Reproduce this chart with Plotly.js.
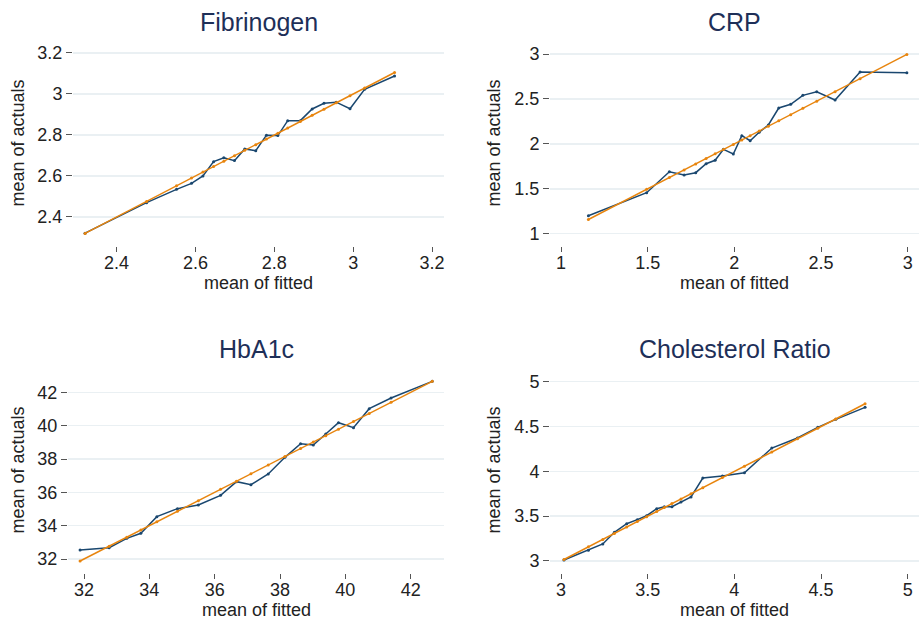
<!DOCTYPE html>
<html>
<head>
<meta charset="utf-8">
<script src="https://cdn.plot.ly/plotly-3.0.1.min.js"></script>
<style>html,body{margin:0;padding:0;background:#fff;}#chart{width:919px;height:625px;}</style>
</head>
<body>
<div id="chart"></div>
<script>
// Panel titles
const panelTitles = ["Fibrinogen", "CRP", "HbA1c", "Cholesterol Ratio"];
const xLabel = "mean of fitted";
const yLabel = "mean of actuals";

// Fibrinogen: bin means of fitted (x) and actual (y)
const fibFitted = [2.320, 2.476, 2.552, 2.590, 2.619, 2.646, 2.672, 2.699, 2.725, 2.753, 2.780, 2.809, 2.834, 2.866, 2.896, 2.926, 2.957, 2.992, 3.029, 3.105];
const fibActual = [2.321, 2.470, 2.535, 2.564, 2.600, 2.670, 2.689, 2.675, 2.732, 2.723, 2.799, 2.797, 2.870, 2.870, 2.927, 2.955, 2.960, 2.928, 3.023, 3.088];

// CRP
const crpFitted = [1.158, 1.494, 1.625, 1.710, 1.777, 1.837, 1.889, 1.937, 1.994, 2.043, 2.091, 2.143, 2.196, 2.256, 2.325, 2.395, 2.475, 2.581, 2.725, 2.995];
const crpActual = [1.200, 1.456, 1.690, 1.653, 1.679, 1.779, 1.817, 1.939, 1.887, 2.091, 2.035, 2.129, 2.210, 2.399, 2.440, 2.540, 2.580, 2.488, 2.800, 2.792];

// HbA1c
const hbFitted = [31.88, 32.77, 33.31, 33.74, 34.23, 34.86, 35.50, 36.18, 36.67, 37.11, 37.64, 38.15, 38.63, 39.02, 39.40, 39.79, 40.25, 40.73, 41.40, 42.66];
const hbActual = [32.54, 32.68, 33.24, 33.54, 34.54, 35.02, 35.24, 35.82, 36.64, 36.46, 37.10, 38.10, 38.92, 38.84, 39.50, 40.18, 39.88, 41.02, 41.66, 42.66];

// Cholesterol ratio
const cholFitted = [3.017, 3.158, 3.241, 3.308, 3.379, 3.440, 3.494, 3.552, 3.596, 3.640, 3.692, 3.750, 3.818, 3.931, 4.058, 4.216, 4.364, 4.481, 4.585, 4.754];
const cholActual = [3.011, 3.119, 3.190, 3.320, 3.416, 3.461, 3.505, 3.583, 3.606, 3.606, 3.658, 3.714, 3.926, 3.948, 3.985, 4.260, 4.372, 4.491, 4.580, 4.714];

// Tick values
const fibTicks = [2.4, 2.6, 2.8, 3, 3.2];
const crpTicks = [1, 1.5, 2, 2.5, 3];
const hbTicks = [32, 34, 36, 38, 40, 42];
const cholTicks = [3, 3.5, 4, 4.5, 5];

const W = 919, H = 625;
const NAVY = "#1a476f", ORANGE = "#e8850e", TITLE = "#1e2f58";
const FONT = "Liberation Sans, Arial, Helvetica, sans-serif";

const panels = [
  {fx: fibFitted, fy: fibActual, ticks: fibTicks, xr: [2.2894, 3.2304], yr: [2.2585, 3.2585], px: [73, 444], py: [41, 246]},
  {fx: crpFitted, fy: crpActual, ticks: crpTicks, xr: [0.9365, 3.065], yr: [0.863, 3.1447], px: [550, 919], py: [41, 246]},
  {fx: hbFitted, fy: hbActual, ticks: hbTicks, xr: [31.51, 43.02], yr: [31.16, 43.46], px: [68, 444], py: [368, 573]},
  {fx: cholFitted, fy: cholActual, ticks: cholTicks, xr: [2.9365, 5.065], yr: [2.866, 5.153], px: [550, 919], py: [368, 573]}
];

const traces = [];
const layout = {
  width: W, height: H,
  margin: {l: 0, r: 0, t: 0, b: 0},
  paper_bgcolor: "#fff", plot_bgcolor: "#fff",
  showlegend: false,
  font: {family: FONT, size: 18, color: "#222"},
  annotations: []
};

panels.forEach((p, i) => {
  const n = i + 1;
  const xa = n === 1 ? "x" : "x" + n;
  const ya = n === 1 ? "y" : "y" + n;
  traces.push({
    x: p.fx, y: p.fy, xaxis: xa, yaxis: ya, type: "scatter", mode: "lines+markers",
    line: {color: NAVY, width: 1.5}, marker: {color: NAVY, size: 3}, hoverinfo: "skip"
  });
  traces.push({
    x: p.fx, y: p.fx, xaxis: xa, yaxis: ya, type: "scatter", mode: "lines+markers",
    line: {color: ORANGE, width: 1.5}, marker: {color: ORANGE, size: 3}, hoverinfo: "skip"
  });
  const xdom = [p.px[0] / W, Math.min(1, p.px[1] / W)];
  const ydom = [1 - p.py[1] / H, 1 - p.py[0] / H];
  layout["xaxis" + (n === 1 ? "" : n)] = {
    domain: xdom, range: p.xr, anchor: ya,
    tickmode: "array", tickvals: p.ticks, ticktext: p.ticks.map(String),
    ticks: "outside", ticklen: 5, tickwidth: 1, tickcolor: "#555",
    ticklabelstandoff: -5,
    showgrid: false, zeroline: false, showline: false,
    tickfont: {family: FONT, size: 18, color: "#222"}
  };
  layout["yaxis" + (n === 1 ? "" : n)] = {
    domain: ydom, range: p.yr, anchor: xa,
    tickmode: "array", tickvals: p.ticks, ticktext: p.ticks.map(String),
    ticks: "outside", ticklen: 6, tickwidth: 1, tickcolor: "#555",
    showgrid: true, gridcolor: "#eaf0f3", gridwidth: 1.5,
    zeroline: false, showline: false,
    tickfont: {family: FONT, size: 18, color: "#222"}
  };
  const cx = (p.px[0] + p.px[1]) / 2;
  const cy = (p.py[0] + p.py[1]) / 2;
  // panel title
  layout.annotations.push({
    text: panelTitles[i], xref: "paper", yref: "paper",
    x: cx / W, y: 1 - (p.py[0] - 19) / H, xanchor: "center", yanchor: "middle",
    showarrow: false, font: {family: FONT, size: 25, color: TITLE}
  });
  // x title
  layout.annotations.push({
    text: xLabel, xref: "paper", yref: "paper",
    x: cx / W, y: 1 - (p.py[1] + 37) / H, xanchor: "center", yanchor: "middle",
    showarrow: false, font: {family: FONT, size: 18, color: "#222"}
  });
  // y title
  const yx = i % 2 === 0 ? 17 : 493;
  layout.annotations.push({
    text: yLabel, xref: "paper", yref: "paper", textangle: -90,
    x: yx / W, y: 1 - cy / H, xanchor: "center", yanchor: "middle",
    showarrow: false, font: {family: FONT, size: 18, color: "#222"}
  });
});

Plotly.newPlot("chart", traces, layout, {staticPlot: true, displayModeBar: false});
</script>
</body>
</html>
